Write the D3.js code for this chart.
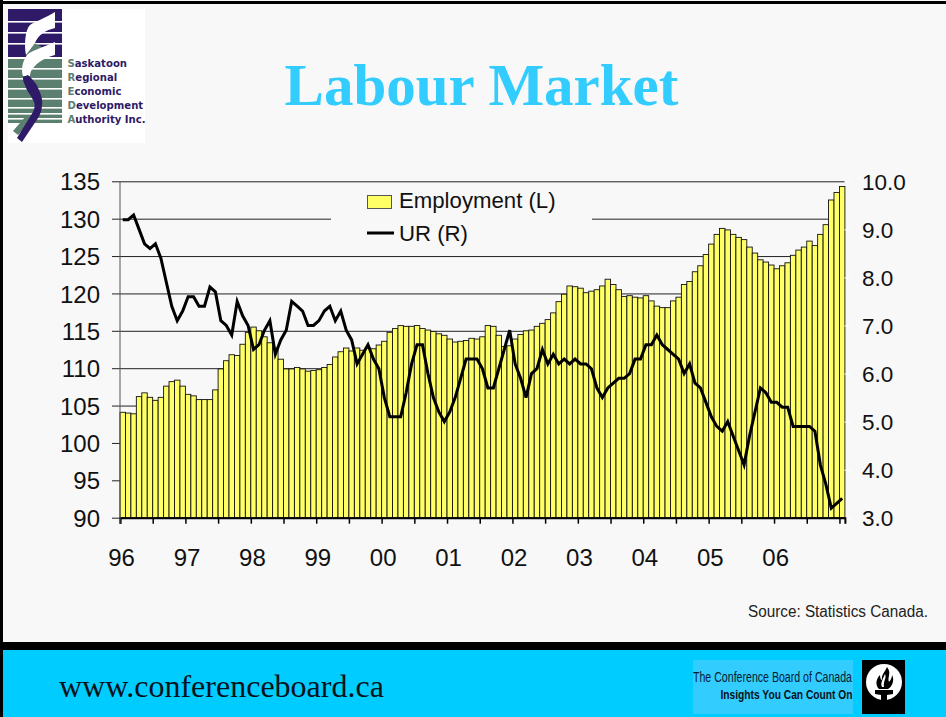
<!DOCTYPE html>
<html>
<head>
<meta charset="utf-8">
<title>Labour Market</title>
<script src="https://cdn.jsdelivr.net/npm/d3@7"></script>
<style>
  html, body { margin: 0; padding: 0; background: #f8f8f8; }
  svg { display: block; }
  text { font-family: "Liberation Sans", Arial, sans-serif; }
</style>
</head>
<body>
<script>
// monthly, jan 96 to jan 07
var employment = [
  104.1, 104.0, 103.9, 106.2, 106.7, 106.1, 105.7, 106.1, 107.6, 108.2, 108.4, 107.6,
  106.5, 106.3, 105.8, 105.8, 105.8, 107.1, 109.9, 111.0, 111.8, 111.7, 113.2, 114.8,
  115.5, 115.0, 114.2, 113.4, 112.7, 111.2, 109.9, 109.9, 110.1, 109.9, 109.6, 109.7,
  109.8, 110.1, 110.5, 111.5, 112.2, 112.7, 112.3, 112.7, 112.4, 112.7, 112.6, 113.1,
  113.6, 114.8, 115.3, 115.7, 115.6, 115.6, 115.7, 115.3, 115.1, 114.9, 114.6, 114.4,
  113.9, 113.5, 113.6, 113.7, 114.0, 113.9, 114.2, 115.7, 115.6, 114.4, 112.9, 113.0,
  113.9, 114.5, 115.0, 115.1, 115.6, 116.0, 116.5, 117.4, 118.9, 119.9, 121.0, 120.9,
  120.7, 120.1, 120.3, 120.5, 121.0, 121.9, 121.2, 120.5, 119.6, 119.7, 119.5, 119.4,
  119.7, 119.0, 118.3, 118.1, 118.1, 119.0, 119.5, 121.2, 121.6, 122.9, 123.7, 125.2,
  126.6, 127.9, 128.7, 128.5, 127.9, 127.5, 127.2, 126.2, 125.4, 124.5, 124.2, 123.8,
  123.3, 123.7, 124.1, 125.1, 125.8, 126.2, 127.0, 126.4, 127.9, 129.2, 132.5, 133.5,
  134.3
];
var unemployment = [
  9.2, 9.2, 9.3, 9.0, 8.7, 8.6, 8.7, 8.4, 7.9, 7.4, 7.1, 7.3,
  7.6, 7.6, 7.4, 7.4, 7.8, 7.7, 7.1, 7.0, 6.8, 7.5, 7.2, 7.0,
  6.5, 6.6, 6.9, 7.1, 6.4, 6.7, 6.9, 7.5, 7.4, 7.3, 7.0, 7.0,
  7.1, 7.3, 7.4, 7.1, 7.3, 6.9, 6.7, 6.2, 6.4, 6.6, 6.3, 6.1,
  5.5, 5.1, 5.1, 5.1, 5.6, 6.2, 6.6, 6.6, 6.0, 5.5, 5.2, 5.0,
  5.2, 5.5, 5.9, 6.3, 6.3, 6.3, 6.1, 5.7, 5.7, 6.1, 6.5, 6.9,
  6.2, 5.9, 5.5, 6.0, 6.1, 6.5, 6.2, 6.4, 6.2, 6.3, 6.2, 6.3,
  6.2, 6.2, 6.1, 5.7, 5.5, 5.7, 5.8, 5.9, 5.9, 6.0, 6.3, 6.3,
  6.6, 6.6, 6.8, 6.6, 6.5, 6.4, 6.3, 6.0, 6.2, 5.8, 5.7, 5.4,
  5.1, 4.9, 4.8, 5.0, 4.7, 4.4, 4.1, 4.7, 5.2, 5.7, 5.6, 5.4,
  5.4, 5.3, 5.3, 4.9, 4.9, 4.9, 4.9, 4.8, 4.1, 3.7, 3.2, 3.3,
  3.4
];
var years = ["96", "97", "98", "99", "00", "01", "02", "03", "04", "05", "06"];
var leftTicks = [90, 95, 100, 105, 110, 115, 120, 125, 130, 135];
var rightTicks = [3, 4, 5, 6, 7, 8, 9, 10];
var logoLines = ["Saskatoon", "Regional", "Economic", "Development", "Authority Inc."];

var w = 946
var h = 717
var top_ = 181.3, bottom = 517.7, left = 120, right = 844.9

var svg = d3.select("body").append("svg")
  .attr("width", w)
  .attr("height", h);

// frame and footer
svg.append("rect").attr("width", w).attr("height", h).attr("fill", "#f8f8f8");
svg.append("rect").attr("y", 1).attr("width", w).attr("height", 3).attr("fill", "#000");
svg.append("rect").attr("width", 3).attr("height", h).attr("fill", "#000");
svg.append("rect").attr("x", 3).attr("y", 642).attr("width", w - 3).attr("height", 8).attr("fill", "#000");
svg.append("rect").attr("x", 3).attr("y", 650).attr("width", w - 3).attr("height", h - 650).attr("fill", "#00ccff");

svg.append("text")
  .attr("x", 481.5).attr("y", 105)
  .attr("text-anchor", "middle")
  .style("font-family", '"Liberation Serif", serif')
  .style("font-size", "59px")
  .style("font-weight", "bold")
  .attr("fill", "#33ccff")
  .text("Labour Market");

svg.append("text")
  .attr("x", 59).attr("y", 697)
  .style("font-family", '"Liberation Serif", serif')
  .style("font-size", "32px")
  .attr("fill", "#06121a")
  .text("www.conferenceboard.ca");

svg.append("text")
  .attr("x", 748).attr("y", 617)
  .attr("textLength", 180).attr("lengthAdjust", "spacingAndGlyphs")
  .style("font-size", "16px")
  .attr("fill", "#222")
  .text("Source: Statistics Canada.");

// scales
var xScale = d3.scaleLinear().domain([0, employment.length]).range([left, right]);
var yLeft = d3.scaleLinear().domain([90, 135]).range([bottom, top_]);
var yRight = d3.scaleLinear().domain([3, 10]).range([bottom, top_]);

// gridlines (left axis with long ticks)
var grid = svg.append("g")
  .attr("transform", "translate(" + left + ",0)")
  .call(d3.axisLeft(yLeft).tickValues(leftTicks).tickSize(8).tickFormat(function(d) { return d; }));
grid.select(".domain").remove();
grid.selectAll("line").attr("stroke", "#222");
grid.selectAll("text")
  .attr("x", -20)
  .attr("dy", ".36em")
  .style("font-size", "24px")
  .style("font-family", '"Liberation Sans", Arial, sans-serif')
  .attr("fill", "#111");
grid.selectAll(".tick").filter(function(d) { return d != 90; })
  .append("line")
  .attr("x2", right - left)
  .attr("stroke", "#222");

// legend box sits on top of the gridline, so the 130 line has a gap
svg.append("rect")
  .attr("x", 331).attr("y", 186)
  .attr("width", 261).attr("height", 64)
  .attr("fill", "#f8f8f8");

// bars
svg.append("g").selectAll("rect")
  .data(employment)
  .enter()
  .append("rect")
  .attr("x", function(d, i) { return xScale(i); })
  .attr("y", function(d) { return yLeft(d); })
  .attr("width", xScale(1) - xScale(0))
  .attr("height", function(d) { return bottom - yLeft(d); })
  .attr("fill", "#ffff66")
  .attr("stroke", "#111")
  .attr("stroke-width", 0.9);

// right axis
var axisR = svg.append("g")
  .attr("transform", "translate(" + (right - 0.5) + ",0)")
  .call(d3.axisRight(yRight).tickValues(rightTicks).tickSize(7).tickFormat(d3.format(".1f")));
axisR.select(".domain").remove();
axisR.selectAll("line").attr("stroke", "#fff");
axisR.selectAll("text")
  .attr("x", 17.5)
  .attr("dy", ".36em")
  .style("font-size", "22.5px")
  .style("font-family", '"Liberation Sans", Arial, sans-serif')
  .attr("fill", "#111");

// bottom axis, a tick every six months
var axisB = svg.append("g")
  .attr("transform", "translate(0," + bottom + ")")
  .call(d3.axisBottom(xScale).tickValues(d3.range(0, employment.length, 6)).tickSize(6).tickFormat(""));
axisB.select(".domain").attr("stroke", "#000").attr("stroke-width", 2);
axisB.selectAll("line").attr("stroke", "#000").attr("stroke-width", 1.5);

var yearAxis = svg.append("g")
  .attr("transform", "translate(0," + bottom + ")")
  .call(d3.axisBottom(xScale)
    .tickValues(years.map(function(d, i) { return i * 12 + 0.2; }))
    .tickSize(0)
    .tickFormat(function(d) { return years[Math.round((d - 0.2) / 12)]; }));
yearAxis.select(".domain").remove();
yearAxis.selectAll("text")
  .attr("y", 31)
  .style("font-size", "24px")
  .style("font-family", '"Liberation Sans", Arial, sans-serif')
  .attr("fill", "#111");

// y axis line
svg.append("line")
  .attr("x1", left).attr("x2", left)
  .attr("y1", top_).attr("y2", bottom + 6)
  .attr("stroke", "#555").attr("stroke-width", 1);

// unemployment rate
var line = d3.line()
  .x(function(d, i) { return xScale(i + 0.5); })
  .y(function(d) { return yRight(d); });

svg.append("path")
  .datum(unemployment)
  .attr("d", line)
  .attr("fill", "none")
  .attr("stroke", "#000")
  .attr("stroke-width", 3)
  .attr("stroke-linejoin", "miter");

// legend
svg.append("rect")
  .attr("x", 367.5).attr("y", 195.5)
  .attr("width", 24).attr("height", 13)
  .attr("fill", "#ffff66").attr("stroke", "#555");
svg.append("text").attr("x", 399).attr("y", 208).style("font-size", "22.2px").attr("fill", "#111").text("Employment (L)");
svg.append("line")
  .attr("x1", 367).attr("x2", 394).attr("y1", 233).attr("y2", 233)
  .attr("stroke", "#000").attr("stroke-width", 3);
svg.append("text").attr("x", 399).attr("y", 241).style("font-size", "22.2px").attr("fill", "#111").text("UR (R)");

// SREDA logo
var navy = "#2e1a66", green = "#5c8070"
var logo = svg.append("g");
logo.append("rect").attr("x", 8).attr("y", 9).attr("width", 137).attr("height", 134).attr("fill", "#fff");
logo.append("rect").attr("x", 8).attr("y", 9).attr("width", 54).attr("height", 48).attr("fill", navy);
logo.append("rect").attr("x", 8).attr("y", 59).attr("width", 54).attr("height", 64).attr("fill", green);
[21, 32, 43, 68, 78, 88, 98, 107, 113, 118].forEach(function(y) {
  logo.append("rect").attr("x", 8).attr("y", y).attr("width", 54).attr("height", 1.6).attr("fill", "#fff");
});
logo.append("path").attr("d", "M13,131 L26,116 L32,120 L18,135 Z").attr("fill", green);
logo.append("path").attr("d", "M26,56 L32,42 L42,47 L42,60 Z").attr("fill", green);
logo.append("path").attr("d", "M55,12 L55,28 C46,30 38,35 35,43 L26,55 C24,46 25,30 30,25 C34,22 45,18 55,12 Z").attr("fill", "#fff");
logo.append("path").attr("d", "M55,42 L55,55 C48,57 40,60 34,67 C31,70 30,73 30,76 L23,76 C21,70 22,62 27,55 C31,51 38,49 55,42 Z").attr("fill", "#fff");
logo.append("path").attr("d", "M28,75 C33,80 37,84 38,88 C41,94 43,100 42,105 C42,110 40,115 38,118 L22,142 L17,138 L33,112 C35,108 35,104 34,102 C31,95 26,90 25,85 C23,82 23,79 23,77 Z").attr("fill", navy);

logo.selectAll(".logotext")
  .data(logoLines)
  .enter()
  .append("text")
  .attr("class", "logotext")
  .attr("x", 67.5)
  .attr("y", function(d, i) { return 67 + i * 14.1; })
  .style("font-family", '"DejaVu Sans", sans-serif')
  .style("font-size", "10.1px")
  .style("font-weight", "bold")
  .attr("fill", navy)
  .each(function(d) {
    var t = d3.select(this);
    t.append("tspan").attr("fill", green).text(d.charAt(0));
    t.append("tspan").text(d.slice(1));
  });

// conference board logo
svg.append("rect").attr("x", 693).attr("y", 660).attr("width", 160).attr("height", 54).attr("fill", "#33ccff");
svg.append("rect").attr("x", 862).attr("y", 660).attr("width", 43).attr("height", 54).attr("fill", "#000");
svg.append("text")
  .attr("x", 693).attr("y", 682)
  .attr("textLength", 159).attr("lengthAdjust", "spacingAndGlyphs")
  .style("font-size", "14px")
  .attr("fill", "#062033")
  .text("The Conference Board of Canada");
svg.append("text")
  .attr("x", 720.5).attr("y", 699)
  .attr("textLength", 132).attr("lengthAdjust", "spacingAndGlyphs")
  .style("font-size", "13.5px")
  .style("font-weight", "bold")
  .attr("fill", "#06121a")
  .text("Insights You Can Count On");
svg.append("circle").attr("cx", 884).attr("cy", 682).attr("r", 18).attr("fill", "#fff");
svg.append("path")
  .attr("d", "M887,667 C892,673 887,677 889,682 C891,680 892,677 892,675 C895,680 892,687 888,689 L879,689 C875,685 876,679 880,675 C880,678 881,680 882,680 C881,675 885,672 887,667 Z")
  .attr("fill", "#000");
svg.append("path")
  .attr("d", "M875,690 L893,690 L893,694 L887,695 L887,700 L881,700 L881,695 L875,694 Z")
  .attr("fill", "#000");
svg.append("path")
  .attr("d", "M885,674 C887,678 883,681 884,687 L882,687 C880,683 883,679 885,674 Z")
  .attr("fill", "#fff");
</script>
</body>
</html>
